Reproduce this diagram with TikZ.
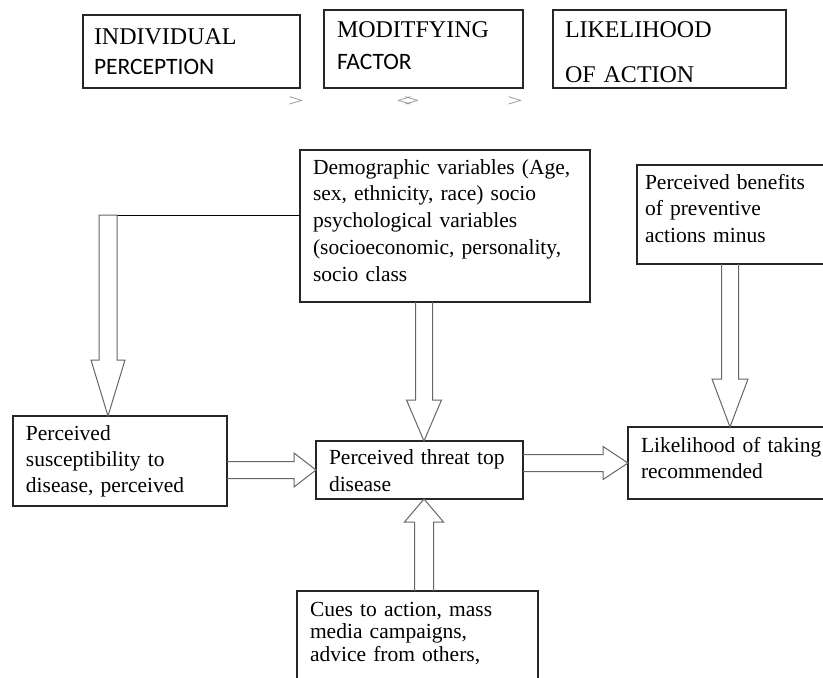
\documentclass[tikz,border=0pt]{standalone}
\usepackage{fontspec}
\setmainfont{Liberation Serif}
\newfontfamily\calfont{Carlito}
\usepackage{graphicx}
\usetikzlibrary{calc}
\usetikzlibrary{positioning}

\newcommand{\fatarrow}[6][]{%
  \coordinate (fa-b) at ($(#3)!#6!(#2)$);
  \draw[fatarr] ($(#2)!#4!90:(#3)$) -- ($(fa-b)!#4!90:(#3)$) -- ($(fa-b)!#5!90:(#3)$) -- (#3)
    -- ($(fa-b)!#5!-90:(#3)$) -- ($(fa-b)!#4!-90:(#3)$) -- ($(#2)!#4!-90:(#3)$) #1;
}

\begin{document}
\begin{tikzpicture}[x=1pt,y=-1pt,
    plainbox/.style={draw=black!85,line width=1.3pt,anchor=north west,inner ysep=0pt,outer sep=0pt,align=left},
    hdbox/.style={plainbox,font=\fontsize{24}{#1}\selectfont},
    txtbox/.style={plainbox,inner xsep=13pt,font=\fontsize{21.5}{#1}\selectfont},
    txtbox/.default=26.5,
    fatarr/.style={draw=black!60,line width=1pt},
    bendline/.style={draw=black,line width=1pt},
    chev/.style={text=black!45,font=\fontsize{17}{17}\selectfont,inner sep=0pt}]
    \useasboundingbox (0,0) rectangle (823,678);
    \clip (0,0) rectangle (823,678);
    \fill[white] (0,0) rectangle (823,678);

    \node[hdbox=30,inner xsep=11pt,text width=195pt,text height=29pt,text depth=44pt] (hind) at (83,15) {INDIVIDUAL\\{\calfont\fontsize{23.5}{30}\selectfont PERCEPTION}};
    \node[hdbox=32,inner xsep=13pt,text width=173pt,text height=27pt,text depth=51pt] (hmod) at (324,10) {MODITFYING\\{\calfont\fontsize{23.5}{32}\selectfont FACTOR}};
    \node[hdbox=45,inner xsep=12pt,text width=209pt,text height=27pt,text depth=51pt] (hlik) at (553,10) {LIKELIHOOD\\OF ACTION};

    \node[chev] (c1) at (296,102) {\scalebox{1.6}[1]{>}};
    \node[chev] (c2) at (408,102) {\scalebox{1.6}[1]{<\kern-5pt>}};
    \node[chev] (c3) at (515,102) {\scalebox{1.6}[1]{>}};

    \node[txtbox=26.8,text width=264pt,text height=24pt,text depth=128pt] (demo) at (300,150) {Demographic variables (Age,\\sex, ethnicity, race) socio\\psychological variables\\(socioeconomic, personality,\\socio class};
    \node[txtbox,inner xsep=8pt,text width=210pt,text height=24pt,text depth=75pt] (ben) at (637,165) {Perceived benefits\\of preventive\\actions minus};
    \node[txtbox=26,text width=188pt,text height=24pt,text depth=66pt] (susc) at (13,416) {Perceived\\susceptibility to\\disease, perceived};
    \node[txtbox=27,text width=181pt,text height=23pt,text depth=35pt] (threat) at (316,441) {Perceived threat top\\disease};
    \node[txtbox=26,text width=200pt,text height=25pt,text depth=47pt] (lik) at (628,427) {Likelihood of taking\\recommended};
    \node[txtbox=22.5,text width=215pt,text height=25pt,text depth=120pt] (cues) at (297,591) {Cues to action, mass\\media campaigns,\\advice from others,};

    \coordinate (lx) at (108,215);
    \coordinate (mx) at (424,0);
    \coordinate (rx) at (730,0);
    \coordinate (lt) at (lx |- susc.north);
    \coordinate (ms) at (mx |- demo.south);
    \coordinate (mt) at (mx |- threat.north);
    \coordinate (cs) at (mx |- cues.north);
    \coordinate (ct) at (mx |- threat.south);
    \coordinate (ss) at (susc.east |- threat.west);
    \coordinate (ts) at (threat.east |- lik.west);
    \coordinate (bs) at (rx |- ben.south);
    \coordinate (bt) at (rx |- lik.north);

    \draw[bendline] ([xshift=9pt]lx) -- (demo.west |- lx);
    \fatarrow[-- cycle]{lx}{lt}{9pt}{17pt}{56pt}
    \fatarrow{ms}{mt}{8.5pt}{17.5pt}{41pt}
    \fatarrow{cs}{ct}{9.5pt}{19.5pt}{23pt}
    \fatarrow{ss}{threat.west}{8.5pt}{17pt}{22pt}
    \fatarrow{ts}{lik.west}{8.5pt}{16.5pt}{25pt}
    \fatarrow{bs}{bt}{8.5pt}{18pt}{48pt}
\end{tikzpicture}
\end{document}
